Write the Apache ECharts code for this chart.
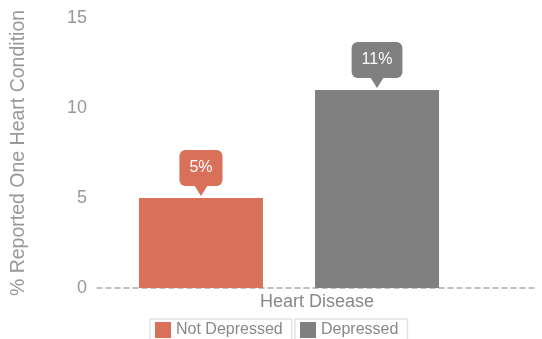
<!DOCTYPE html>
<html>
<head>
<meta charset="utf-8">
<script src="https://cdn.jsdelivr.net/npm/echarts@6/dist/echarts.min.js"></script>
<style>
html,body{margin:0;padding:0;background:#fff;}
#chart{width:542px;height:339px;}
</style>
</head>
<body>
<div id="chart"></div>
<script>
var categories = ['Heart Disease'];
var seriesNames = ['Not Depressed', 'Depressed'];
var notDepressed = [5];
var depressed = [11];
var yMin = 0, yMax = 15, yInterval = 5;
var yName = '% Reported One Heart Condition';
var colors = ['#d9705a', '#808080'];

var FONT = 'Liberation Sans, Arial, sans-serif';
var pointer = 'path://M0,0 L14,0 L7,11 Z';

function makeSeries(name, values, color) {
  return {
    name: name,
    type: 'bar',
    xAxisIndex: 0,
    yAxisIndex: 0,
    data: values,
    barWidth: 124,
    barGap: '42%',
    itemStyle: { color: color },
    label: {
      show: true,
      position: 'top',
      distance: 12,
      formatter: '{c}%',
      color: '#fff',
      fontSize: 16,
      fontFamily: FONT,
      backgroundColor: color,
      padding: [10, 10],
      borderRadius: 6
    },
    markPoint: {
      symbol: pointer,
      symbolSize: [14, 11],
      symbolOffset: [0, -7.5],
      itemStyle: { color: color },
      label: { show: false },
      data: [{ type: 'max' }]
    }
  };
}

var chart = echarts.init(document.getElementById('chart'), null, { renderer: 'canvas' });
chart.setOption({
  animation: false,
  backgroundColor: '#fff',
  textStyle: { fontFamily: FONT },
  grid: [
    { left: 97, right: 61, top: 18, bottom: 51 },
    { left: 97, right: 5, top: 18, bottom: 51 }
  ],
  xAxis: [
    { gridIndex: 0, type: 'category', data: categories, show: false },
    {
      gridIndex: 1, type: 'category', data: categories,
      axisLine: { show: true, lineStyle: { color: '#aaaaaa', width: 1.5, type: [5, 4] } },
      axisTick: { show: false },
      axisLabel: { color: '#888888', fontSize: 18, fontFamily: FONT, margin: 5 },
      splitLine: { show: false }
    }
  ],
  yAxis: [
    {
      gridIndex: 0, type: 'value', min: yMin, max: yMax, interval: yInterval,
      axisLine: { show: false }, axisTick: { show: false }, splitLine: { show: false },
      axisLabel: { color: '#999999', fontSize: 18, fontFamily: FONT, margin: 10 },
      name: yName, nameLocation: 'middle', nameGap: 68, nameRotate: 90,
      nameTextStyle: { color: '#999999', fontSize: 19.5, fontFamily: FONT }
    },
    {
      gridIndex: 1, type: 'value', min: yMin, max: yMax, interval: yInterval, show: false
    }
  ],
  legend: [
    {
      data: [seriesNames[0]], left: 150, top: 319, orient: 'horizontal',
      icon: 'rect', itemWidth: 16, itemHeight: 16,
      padding: [3, 9, 3, 5], borderColor: '#e3e3e3', borderWidth: 1.5,
      textStyle: { color: '#888888', fontSize: 16, fontFamily: FONT }
    },
    {
      data: [seriesNames[1]], left: 295, top: 319, orient: 'horizontal',
      icon: 'rect', itemWidth: 16, itemHeight: 16,
      padding: [3, 9, 3, 5], borderColor: '#e3e3e3', borderWidth: 1.5,
      textStyle: { color: '#888888', fontSize: 16, fontFamily: FONT }
    }
  ],
  series: [
    makeSeries(seriesNames[0], notDepressed, colors[0]),
    makeSeries(seriesNames[1], depressed, colors[1])
  ]
});
</script>
</body>
</html>
